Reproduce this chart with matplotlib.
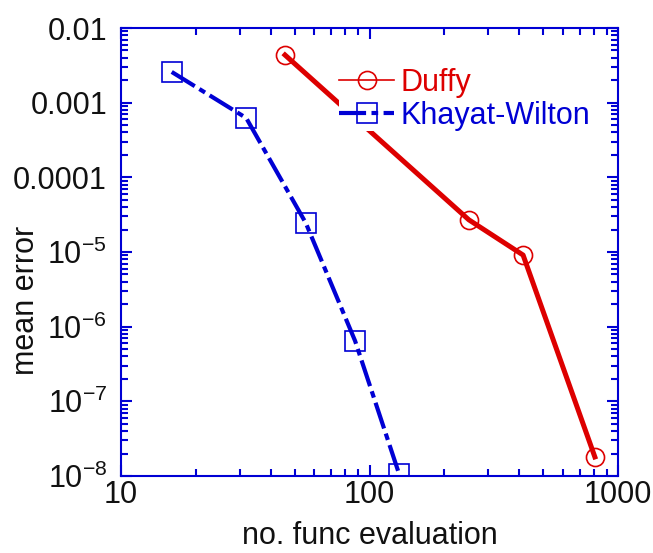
import matplotlib
matplotlib.use("Agg")
import matplotlib.pyplot as plt
from matplotlib.lines import Line2D
from matplotlib.ticker import FixedLocator, FixedFormatter, LogLocator, NullFormatter

plt.rcParams["font.family"] = ["Liberation Sans", "DejaVu Sans"]
plt.rcParams["mathtext.fontset"] = "custom"
plt.rcParams["mathtext.rm"] = "Liberation Sans"

# data
duffy_n = [45.7, 251, 415, 807]
duffy_err = [4.35e-3, 2.7e-5, 9.1e-6, 1.8e-8]
kw_n = [16.0, 31.9, 55.4, 87.5, 131.5]
kw_err = [2.58e-3, 6.24e-4, 2.45e-5, 6.45e-7, 1.07e-8]

y_ticks = [1e-2, 1e-3, 1e-4, 1e-5, 1e-6, 1e-7, 1e-8]
y_labels = ["0.01", "0.001", "0.0001",
            r"$\mathregular{10^{-5}}$", r"$\mathregular{10^{-6}}$",
            r"$\mathregular{10^{-7}}$", r"$\mathregular{10^{-8}}$"]
x_ticks = [10, 100, 1000]
x_labels = ["10", "100", "1000"]

red = "#dd0000"
blue = "#0000d4"
kw_dash = (6.5, 1.3, 1.6, 1.3)

fig = plt.figure(figsize=(6.53, 5.53), dpi=100)
ax = fig.add_axes([121 / 653, 1 - 476 / 553, 497 / 653, 448 / 553])

ax.plot(duffy_n, duffy_err, color=red, lw=3.6, marker="o", ms=13,
        mfc="none", mec=red, mew=1.2)
kw_line, = ax.plot(kw_n, kw_err, color=blue, lw=3.0, marker="s", ms=14,
                   mfc="none", mec=blue, mew=1.2)
kw_line.set_dashes(kw_dash)

ax.set_xscale("log")
ax.set_yscale("log")
ax.set_xlim(10, 1000)
ax.set_ylim(1e-8, 1e-2)

ax.yaxis.set_major_locator(FixedLocator(y_ticks))
ax.yaxis.set_major_formatter(FixedFormatter(y_labels))
ax.xaxis.set_major_locator(FixedLocator(x_ticks))
ax.xaxis.set_major_formatter(FixedFormatter(x_labels))
ax.xaxis.set_minor_locator(LogLocator(base=10, subs=range(2, 10)))
ax.yaxis.set_minor_locator(LogLocator(base=10, subs=range(2, 10)))
ax.xaxis.set_minor_formatter(NullFormatter())
ax.yaxis.set_minor_formatter(NullFormatter())

ax.tick_params(which="both", direction="in", top=True, right=True,
               color=blue, width=1.5, labelsize=22, labelcolor="#111111")
ax.tick_params(which="major", length=8)
ax.tick_params(which="minor", length=5)
ax.tick_params(axis="y", pad=10)
ax.tick_params(axis="x", pad=3)
for s in ax.spines.values():
    s.set_color(blue)
    s.set_linewidth(1.5)

ax.set_xlabel("no. func evaluation", fontsize=22, color="#111111")
ax.set_ylabel("mean error", fontsize=22, color="#111111")
ax.xaxis.set_label_coords(0.5, -0.101)
ax.yaxis.set_label_coords(-0.161, 0.393)

h_duffy = Line2D([], [], color=red, lw=1.2, marker="o", ms=13,
                 mfc="none", mec=red, mew=1.2)
h_kw = Line2D([], [], color=blue, lw=3.0, marker="s", ms=14,
              mfc="none", mec=blue, mew=1.2, dashes=kw_dash)
leg = ax.legend([h_duffy, h_kw], ["Duffy", "Khayat-Wilton"],
                loc="upper left", bbox_to_anchor=(0.439, 0.911),
                fontsize=22, frameon=True, edgecolor="none",
                facecolor="white", framealpha=1, fancybox=False,
                borderpad=0, handlelength=1.8, handletextpad=0.2,
                labelspacing=0.1, borderaxespad=0)
for txt, c in zip(leg.get_texts(), [red, blue]):
    txt.set_color(c)

fig.savefig("out.png", dpi=100)
